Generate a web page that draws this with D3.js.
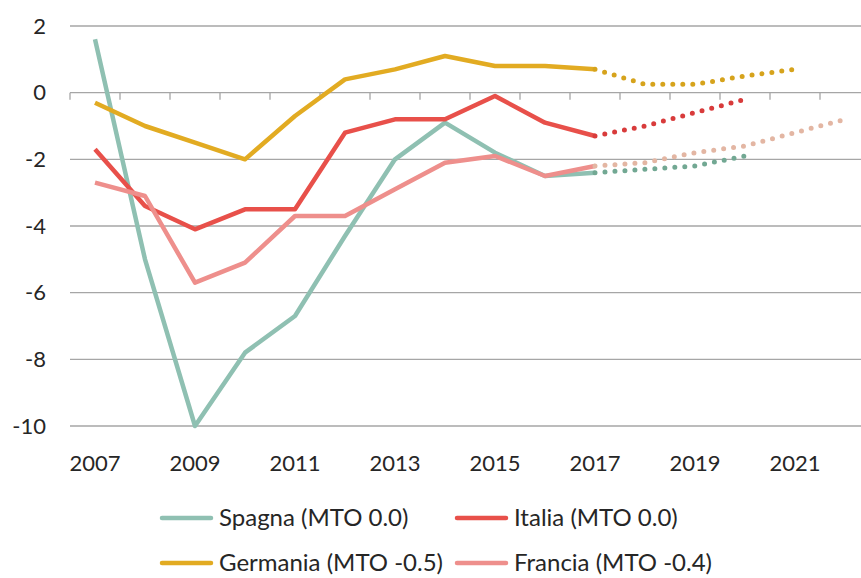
<!DOCTYPE html>
<html>
<head>
<meta charset="utf-8">
<script src="https://cdn.jsdelivr.net/npm/d3@7"></script>
<style>
  body { margin: 0; background: #fff; }
  svg { display: block; font-family: Lato, 'Open Sans', sans-serif; }
  .grid line { stroke: #a6a6a6; stroke-width: 1.3; }
  .lbl { fill: #262626; font-size: 22px; }
  .leg { fill: #262626; font-size: 24px; }
</style>
</head>
<body>
<svg width="861" height="578"></svg>
<script>
// observed years and balances
const years = [2007, 2008, 2009, 2010, 2011, 2012, 2013, 2014, 2015, 2016, 2017];
const spagna = [1.6, -5.0, -10.0, -7.8, -6.7, -4.3, -2.0, -0.9, -1.8, -2.5, -2.4];
const italia = [-1.7, -3.4, -4.1, -3.5, -3.5, -1.2, -0.8, -0.8, -0.1, -0.9, -1.3];
const germania = [-0.3, -1.0, -1.5, -2.0, -0.7, 0.4, 0.7, 1.1, 0.8, 0.8, 0.7];
const francia = [-2.7, -3.1, -5.7, -5.1, -3.7, -3.7, -2.9, -2.1, -1.9, -2.5, -2.2];

// forecasts (dotted), starting at 2017
const spagnaF = [-2.4, -2.3, -2.2, -1.9];
const italiaF = [-1.3, -1.0, -0.6, -0.2];
const germaniaF = [0.7, 0.25, 0.25, 0.5, 0.7];
const franciaF = [-2.2, -2.1, -1.8, -1.6, -1.2, -0.8];

const yTicks = [2, 0, -2, -4, -6, -8, -10];
const xTickLabels = [2007, 2009, 2011, 2013, 2015, 2017, 2019, 2021];

const series = [
  {name: 'Spagna (MTO 0.0)', vals: spagna, fc: spagnaF, color: '#8fc0b2', fcColor: '#72a893'},
  {name: 'Italia (MTO 0.0)', vals: italia, fc: italiaF, color: '#e8504a', fcColor: '#d83b3b'},
  {name: 'Germania (MTO -0.5)', vals: germania, fc: germaniaF, color: '#e2ab22', fcColor: '#d6a31c'},
  {name: 'Francia (MTO -0.4)', vals: francia, fc: franciaF, color: '#ee8f8c', fcColor: '#e3b6a3'}
];
// draw order: Spagna under, then Germania, Italia, Francia
const drawOrder = [0, 2, 1, 3];

const svg = d3.select('svg');
const x = d3.scaleLinear().domain([2006.5, 2022.5]).range([70, 870]);
const y = d3.scaleLinear().domain([-10, 2]).range([426, 26]);

// horizontal gridlines
svg.append('g').attr('class', 'grid')
    .selectAll('line').data(yTicks).enter()
    .append('line')
    .attr('x1', 70).attr('x2', 870)
    .attr('y1', (d) => y(d)).attr('y2', (d) => y(d));

// category tick marks on the zero line
svg.append('g').attr('class', 'grid')
    .selectAll('line').data(d3.range(2006.5, 2023, 1)).enter()
    .append('line')
    .attr('x1', (d) => x(d)).attr('x2', (d) => x(d))
    .attr('y1', y(0)).attr('y2', y(0) + 7);

// y labels
svg.append('g').selectAll('text').data(yTicks).enter()
    .append('text').attr('class', 'lbl')
    .attr('x', 46).attr('y', (d) => y(d))
    .attr('dy', '0.35em').attr('text-anchor', 'end')
    .text((d) => d);

// x labels
svg.append('g').selectAll('text').data(xTickLabels).enter()
    .append('text').attr('class', 'lbl')
    .attr('x', (d) => x(d)).attr('y', 471)
    .attr('text-anchor', 'middle')
    .text((d) => d);

const line = d3.line()
    .x((d) => x(d[0]))
    .y((d) => y(d[1]));

drawOrder.forEach(function(i) {
  const s = series[i];
  svg.append('path')
      .datum(s.vals.map((v, j) => [years[j], v]))
      .attr('d', line)
      .attr('fill', 'none')
      .attr('stroke', s.color)
      .attr('stroke-width', 4.5)
      .attr('stroke-linejoin', 'round');
});

drawOrder.forEach(function(i) {
  const s = series[i];
  svg.append('path')
      .datum(s.fc.map((v, j) => [2017 + j, v]))
      .attr('d', line)
      .attr('fill', 'none')
      .attr('stroke', s.fcColor)
      .attr('stroke-width', 5)
      .attr('stroke-linecap', 'round')
      .attr('stroke-dasharray', '0 10')
      .attr('stroke-dashoffset', -10);
});

// legend, two rows of two
const legendPos = [[160, 518], [455, 518], [160, 563], [455, 563]];
const legend = svg.append('g').selectAll('g').data(series).enter()
    .append('g')
    .attr('transform', (d, i) => `translate(${legendPos[i][0]},${legendPos[i][1]})`);

legend.append('line')
    .attr('x1', 2).attr('x2', 51)
    .attr('stroke', (d) => d.color)
    .attr('stroke-width', 4.5)
    .attr('stroke-linecap', 'round');

legend.append('text').attr('class', 'leg')
    .attr('x', 59).attr('dy', '0.35em')
    .text((d) => d.name);
</script>
</body>
</html>
